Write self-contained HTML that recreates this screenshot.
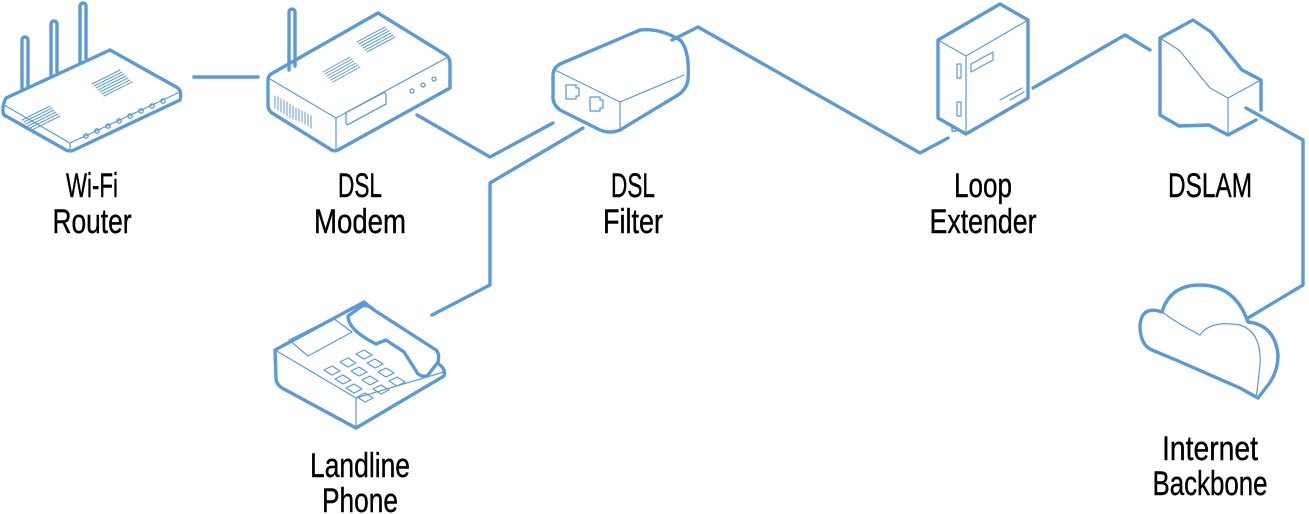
<!DOCTYPE html>
<html><head><meta charset="utf-8"><style>
html,body{margin:0;padding:0;background:#fff;}
svg{display:block}
text{font-family:"Liberation Sans",sans-serif;font-size:34px;fill:#000;text-anchor:middle;stroke:#000;stroke-width:0.4}
</style></head><body>
<svg width="1309" height="514" viewBox="0 0 1309 514" xmlns="http://www.w3.org/2000/svg">
<g fill="none" stroke="#5b9bd5" stroke-width="3.4" stroke-linejoin="round" stroke-linecap="round">
<!-- connectors -->
<polyline points="194,77 258,77"/>
<polyline points="417,115 490,157 553,123"/>
<polyline points="432,315 490,285 490,183 583,128"/>
<polyline points="672,40 698,27 920,153 948,138"/>
<polyline points="1033,88 1125,35 1150,50"/>
<polyline points="1246,108 1303,140 1303,285 1248,318"/>

<!-- router -->
<path d="M22,90 V40 a3,3 0 0 1 6,0 V86"/>
<path d="M51,76 V24 a3,3 0 0 1 6,0 V72"/>
<path d="M80,62 V6 a3,3 0 0 1 6,0 V58"/>
<path d="M6,98 L110,50 L178,88 Q182,92 180,100 L74,150 Q70,152 66,150 L4,115 Q1,108 6,98 Z" fill="#fff"/>
<path d="M4,105 L70,143 L180,92" stroke-width="1.2"/>
<path d="M70,143 V150" stroke-width="1.2"/>
<g stroke-width="1">
<path d="M92,84 L120,70 M94,86 L122,72 M96,88 L124,74 M98,90 L126,76 M100,92 L128,78 M102,94 L130,80 M104,96 L132,82"/>
<path d="M22,120 L50,106 M24,122 L52,108 M26,124 L54,110 M28,126 L56,112 M30,128 L58,114 M32,130 L60,116"/>
</g>
<g stroke-width="1.3">
<circle cx="86" cy="136" r="2.2"/><circle cx="97" cy="131" r="2.2"/><circle cx="108" cy="126" r="2.2"/><circle cx="119" cy="121" r="2.2"/><circle cx="130" cy="116" r="2.2"/><circle cx="141" cy="111" r="2.2"/><circle cx="152" cy="106" r="2.2"/><circle cx="163" cy="101" r="2.2"/>
</g>

<!-- modem -->
<path d="M289,70 V12 a3,3 0 0 1 6,0 V66"/>
<path d="M271,74 L378,13 L446,55 Q450,58 450,64 V88 L338,150 Q334,152 330,149 L272,113 Q268,110 268,105 V80 Q268,76 271,74 Z"/>
<path d="M270,79 L336,118 L448,57 M336,118 V150" stroke-width="1.2"/>
<path d="M347,112 L383,93 Q386,92 386,96 V104 L349,124 Q346,126 346,122 V114 Q346,112 347,112 Z" stroke-width="1.3"/>
<g stroke-width="1">
<path d="M323,72 L350,57 M325,74 L352,59 M327,76 L354,61 M329,78 L356,63 M331,80 L358,65 M333,82 L360,67"/>
<path d="M357,42 L385,27 M359,44 L387,29 M361,46 L389,31 M363,48 L391,33 M365,50 L393,35 M367,52 L395,37"/>
<path d="M275,96 V108 M278,97 V110 M281,99 V112 M284,100 V114 M287,102 V116 M290,104 V118 M293,106 V119 M296,108 V120 M299,109 V121 M302,111 V122 M305,112 V124 M308,114 V126 M311,116 V128"/>
</g>
<g stroke-width="1.3"><circle cx="412" cy="91" r="2"/><circle cx="423" cy="85" r="2"/><circle cx="434" cy="79" r="2"/></g>

<!-- filter -->
<path d="M560,64 L640,30 Q660,28 680,40 Q690,50 688,80 Q686,90 678,95 L620,130 Q610,134 600,130 L560,110 Q552,104 553,95 V75 Q553,68 560,64 Z"/>
<path d="M555,70 L620,102 L684,75 M620,102 V130" stroke-width="1.2"/>
<path d="M566,85 h10 v3 h3 v8 h-3 v3 h-10 Z" stroke-width="1.3"/>
<path d="M590,97 h10 v3 h3 v8 h-3 v3 h-10 Z" stroke-width="1.3"/>

<!-- loop extender -->
<path d="M938,40 L1000,4 L1028,20 V98 L966,134 L938,118 Z"/>
<path d="M938,40 L966,56 L1028,20 M966,56 V134" stroke-width="1.2"/>
<path d="M971,64 L993,52 V60 L971,72 Z" stroke-width="1.2"/>
<path d="M1000,100 L1022,88 M1010,100 L1024,92" stroke-width="1.2"/>
<rect x="957" y="64" width="4" height="14" stroke-width="1.2"/><rect x="957" y="102" width="4" height="14" stroke-width="1.2"/>
<path d="M952,126 v5 h4 v-4" stroke-width="1.5"/>

<!-- DSLAM -->
<path d="M1160,38 L1193,20 L1211,32 L1242,70 L1261,80 V110"/>
<path d="M1160,38 V115 L1179,126 L1209,125 L1228,135 L1256,120"/>
<path d="M1160,38 L1179,50 L1210,88 L1228,98 L1261,80 M1228,98 V135" stroke-width="1.2"/>

<!-- cloud -->
<path d="M1152,350 Q1140,345 1140,325 Q1142,305 1162,312 Q1170,285 1200,285 Q1235,285 1248,322 Q1275,325 1278,355 Q1278,372 1268,385 L1258,398 L1240,388 L1176,360 Z"/>
<path d="M1200,335 Q1210,320 1240,325 Q1262,332 1260,365 Q1258,385 1256,398" stroke-width="1.2"/>
<path d="M1162,312 Q1180,325 1200,335" stroke-width="1.2"/>

<!-- phone -->
<path d="M275,350 L364,302 L440,365 Q446,370 444,376 L356,428 L282,388 Q276,384 276,378 Z"/>
<path d="M275,350 L356,398 L444,372 M356,398 V428" stroke-width="1.2"/>
<path d="M348,316 L362,306 Q368,304 374,310 L436,350 Q440,354 438,362 L428,375 Q424,378 418,374 L404,352 L386,340 L376,344 Q348,330 348,316 Z" fill="#fff"/>
<path d="M289,340 L333,318 L352,332 L308,356 Z" stroke-width="1.2"/>
<g stroke-width="1.2">
<path d="M324,370 l8,-4 l8,5 l-8,4 Z M340,362 l8,-4 l8,5 l-8,4 Z M356,354 l8,-4 l8,5 l-8,4 Z"/>
<path d="M335,379 l8,-4 l8,5 l-8,4 Z M351,371 l8,-4 l8,5 l-8,4 Z M367,363 l8,-4 l8,5 l-8,4 Z"/>
<path d="M346,388 l8,-4 l8,5 l-8,4 Z M362,380 l8,-4 l8,5 l-8,4 Z M378,372 l8,-4 l8,5 l-8,4 Z"/>
<path d="M357,397 l8,-4 l8,5 l-8,4 Z M373,389 l8,-4 l8,5 l-8,4 Z M389,381 l8,-4 l8,5 l-8,4 Z"/>
</g>
</g>

<text x="92" y="197" textLength="52" lengthAdjust="spacingAndGlyphs">Wi-Fi</text>
<text x="92" y="233" textLength="79" lengthAdjust="spacingAndGlyphs">Router</text>
<text x="360" y="197" textLength="44" lengthAdjust="spacingAndGlyphs">DSL</text>
<text x="360" y="233" textLength="92" lengthAdjust="spacingAndGlyphs">Modem</text>
<text x="633" y="197" textLength="44" lengthAdjust="spacingAndGlyphs">DSL</text>
<text x="633" y="233" textLength="60" lengthAdjust="spacingAndGlyphs">Filter</text>
<text x="983" y="197" textLength="58" lengthAdjust="spacingAndGlyphs">Loop</text>
<text x="983" y="233" textLength="107" lengthAdjust="spacingAndGlyphs">Extender</text>
<text x="1210" y="197" textLength="84" lengthAdjust="spacingAndGlyphs">DSLAM</text>
<text x="360" y="477" textLength="100" lengthAdjust="spacingAndGlyphs">Landline</text>
<text x="360" y="512" textLength="76" lengthAdjust="spacingAndGlyphs">Phone</text>
<text x="1210" y="460" textLength="96" lengthAdjust="spacingAndGlyphs">Internet</text>
<text x="1210" y="495" textLength="115" lengthAdjust="spacingAndGlyphs">Backbone</text>
</svg>
</body></html>
